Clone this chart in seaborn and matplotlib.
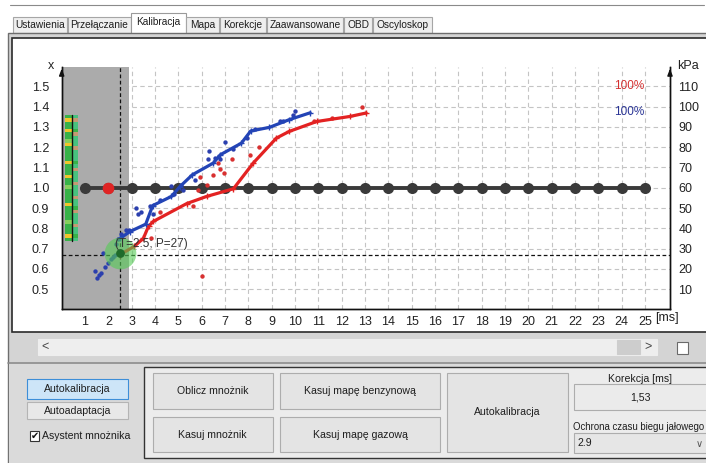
import pandas as pd
import seaborn as sns
import matplotlib.pyplot as plt
from matplotlib.patches import Rectangle
from matplotlib.colors import ListedColormap

# ---- values ----
tab_names = ["Ustawienia", "Przełączanie", "Kalibracja", "Mapa", "Korekcje",
             "Zaawansowane", "OBD", "Oscyloskop"]

ms_ticks = [1, 2, 3, 4, 5, 6, 7, 8, 9, 10, 11, 12, 13, 14, 15, 16, 17, 18, 19,
            20, 21, 22, 23, 24, 25]
x_ticks = [0.5, 0.6, 0.7, 0.8, 0.9, 1.0, 1.1, 1.2, 1.3, 1.4, 1.5]
kpa_ticks = [10, 20, 30, 40, 50, 60, 70, 80, 90, 100, 110]

# multiplier map (black points, the one at 2 ms is highlighted red)
map_ms = [1, 2, 3, 4, 5, 6, 7, 8, 9, 10, 11, 12, 13, 14, 15, 16, 17, 18, 19,
          20, 21, 22, 23, 24, 25]
map_x = [1.0, 1.0, 1.0, 1.0, 1.0, 1.0, 1.0, 1.0, 1.0, 1.0, 1.0, 1.0, 1.0,
         1.0, 1.0, 1.0, 1.0, 1.0, 1.0, 1.0, 1.0, 1.0, 1.0, 1.0, 1.0]
active_ms = 2

# blue curve (petrol) and red curve (gas)
blue_ms = [2.5, 2.93, 3.6, 3.9, 4.7, 5.07, 5.6, 6.5, 6.8, 7.7, 8.1, 8.9, 9.75, 10.65]
blue_x = [0.75, 0.784, 0.82, 0.912, 0.957, 1.006, 1.064, 1.122, 1.163, 1.22,
          1.28, 1.298, 1.336, 1.37]
red_ms = [2.5, 3.1, 3.5, 3.72, 3.93, 5.36, 6.21, 7.36, 8.21, 9.2, 9.75, 10.93,
          12.36, 13.05]
red_x = [0.67, 0.71, 0.75, 0.81, 0.834, 0.922, 0.957, 0.995, 1.122, 1.245,
         1.278, 1.327, 1.352, 1.369]

blue_pts_ms = [1.43, 1.53, 1.6, 1.7, 1.77, 1.84, 1.99, 2.13, 2.2, 2.27, 2.34,
               2.41, 2.56, 2.77, 2.9, 3.2, 3.27, 3.41, 3.77, 3.9, 4.2, 4.69,
               4.8, 5.13, 5.2, 5.7, 6.29, 6.33, 6.57, 6.79, 7.0, 7.36, 7.93,
               8.3, 9.36, 9.5, 9.93, 10.0]
blue_pts_x = [0.587, 0.555, 0.57, 0.58, 0.68, 0.61, 0.63, 0.65, 0.66, 0.67,
              0.72, 0.745, 0.77, 0.79, 0.79, 0.9, 0.87, 0.88, 0.91, 0.87,
              0.94, 1.01, 0.97, 1.015, 0.99, 1.04, 1.14, 1.18, 1.146, 1.14,
              1.224, 1.19, 1.245, 1.29, 1.327, 1.33, 1.36, 1.38]
red_pts_ms = [3.83, 4.2, 5.61, 5.86, 5.93, 6.21, 6.5, 6.71, 6.79, 6.96, 7.29,
              8.07, 8.47, 6.0, 10.8, 11.6, 12.86]
red_pts_x = [0.75, 0.88, 0.908, 0.99, 1.053, 1.015, 1.064, 1.122, 1.092,
             1.072, 1.142, 1.163, 1.2, 0.562, 1.33, 1.345, 1.40]

# current operating point
cur_ms = 2.5
cur_kpa = 27
cur_x = 0.678
idle_guard_ms = 2.9

# small colour strip on the left (G green, Y yellow, L light green, A aqua, T tan)
strip_left = "GYGGYGGLYGGGGYGGGYGGLGGGGYGGGGLGGGYG"
strip_right = "ATAAGTAAATAAAGATAAATAAATAAGTAAATAAGA"
strip_colors = {"G": "#38b248", "Y": "#f1c62a", "L": "#86cf5c",
                "A": "#47c27e", "T": "#c49a72"}

# ---- drawing ----
W, H = 706, 463
sns.set_style("white")
plt.rcParams["font.family"] = ["Liberation Sans", "DejaVu Sans"]

fig = plt.figure(figsize=(W / 100, H / 100), dpi=100)

bg = fig.add_axes([0, 0, 1, 1], zorder=0)
bg.set_xlim(0, W)
bg.set_ylim(H, 0)
bg.axis("off")


def box(x0, y0, x1, y1, fc, ec="#adadad", lw=0.8):
    bg.add_patch(Rectangle((x0, y0), x1 - x0, y1 - y0, facecolor=fc,
                           edgecolor=ec, linewidth=lw))


def label(x, y, s, ha="center", size=7.6, color="#1e1e1e", **kw):
    bg.text(x, y, s, ha=ha, va="center", fontsize=size, color=color, **kw)


# tab strip
bg.plot([10, 704], [5, 5], color="#8a8a8a", lw=0.8)
tab_edges = [12, 67, 131, 185, 219, 266, 343, 372, 432]
for i, name in enumerate(tab_names):
    x0, x1 = tab_edges[i] + 1, tab_edges[i + 1]
    if name == "Kalibracja":
        box(x0 - 1, 13, x1 + 1, 34, "white", "#9a9a9a")
        label((x0 + x1) / 2, 22, name, size=7.3)
    else:
        box(x0, 17, x1, 33, "#efefef", "#a6a6a6")
        label((x0 + x1) / 2, 25, name, size=7.3)

# panel and chart frame
box(8, 33, 710, 470, "#d4d4d4", "#6e6e6e", 1.0)
box(11.5, 38, 710, 332, "white", "#2a2a2a", 1.2)

# scrollbar
box(38, 339, 657, 355, "#eeeeee", "#eeeeee")
box(617, 340, 640, 354, "#cdcdcd", "#cdcdcd")
label(45, 347, "<", size=9, color="#444444")
label(648, 347, ">", size=9, color="#444444")
box(677, 342, 688, 354, "white", "#6a6a6a")

# lower panel
bg.plot([8, 706], [362.5, 362.5], color="#8c8c8c", lw=1.2)
box(9, 363.5, 710, 470, "#dadada", "#dadada")
box(27, 379, 128, 399, "#cde5f8", "#3d8ed8")
label(77.5, 389, "Autokalibracja")
box(27, 402, 128, 419, "#e8e8e8", "#b4b4b4")
label(77.5, 410.5, "Autoadaptacja")
box(30, 431, 39, 441, "white", "#333333")
bg.text(34.5, 436, "\u2714", ha="center", va="center", fontsize=7,
        family=["DejaVu Sans"], color="#111111")
label(42, 436, "Asystent mnożnika", ha="left")

box(144, 366.5, 710, 458, "#ececec", "#333333", 1.0)
box(152.5, 372.5, 273, 409, "#e4e4e4")
label(212.8, 391, "Oblicz mnożnik")
box(152.5, 417, 273, 452, "#e4e4e4")
label(212.8, 434.5, "Kasuj mnożnik")
box(280, 372.5, 440, 409, "#e4e4e4")
label(360, 391, "Kasuj mapę benzynową")
box(280, 417, 440, 452, "#e4e4e4")
label(360, 434.5, "Kasuj mapę gazową")
box(447, 372.5, 568, 452, "#e4e4e4")
label(507.5, 412, "Autokalibracja")
label(640, 378.5, "Korekcja [ms]")
box(574, 384, 712, 410, "#ebebeb")
label(640, 397, "1,53")
label(573, 426.5, "Ochrona czasu biegu jałowego", ha="left", size=6.9)
box(574, 433, 712, 453, "#e6e6e6")
label(578, 443, f"{idle_guard_ms}", ha="left")
label(699, 444, "\u2228", size=7, color="#555555", family=["DejaVu Sans"])

# ---- chart ----
left, right, top, bottom = 61.7, 670.0, 67.0, 309.3
ax = fig.add_axes([left / W, (H - bottom) / H, (right - left) / W,
                   (bottom - top) / H], zorder=2)
ax.set_xlim(0, 26.07)
ax.set_ylim(0.4, 1.596)
ax.set_facecolor("none")

grid_kw = dict(color="#c4c4c4", lw=0.8, dashes=(4, 3), zorder=1)
for t in ms_ticks:
    ax.axvline(t, **grid_kw)
for t in x_ticks:
    ax.axhline(t, **grid_kw)

ax.axvspan(0, idle_guard_ms, color="#ababab", zorder=2, lw=0)

# colour strip
n = len(strip_left)
cell = (1.36 - 0.735) / n
for col, (x0, x1) in zip([strip_left, strip_right], [(0.15, 0.42), (0.43, 0.68)]):
    codes = [list(strip_colors).index(c) for c in col]
    ys = [1.36 - i * cell for i in range(n + 1)]
    ax.pcolormesh([x0, x1], ys, [[c] for c in codes],
                  cmap=ListedColormap(list(strip_colors.values())),
                  vmin=-0.5, vmax=len(strip_colors) - 0.5, zorder=3)
ax.plot([0.425, 0.425], [0.735, 1.36], color="#111111", lw=1, zorder=3)

ax.axvline(cur_ms, color="#111111", lw=0.9, dashes=(3, 2), zorder=4)
ax.axhline(cur_kpa / 100 + 0.4, color="#111111", lw=0.9, dashes=(3, 2), zorder=4)

map_df = pd.DataFrame({"ms": map_ms, "x": map_x})
sns.lineplot(data=map_df, x="ms", y="x", color="#3a3a3a", lw=2.8,
             marker="o", markersize=8, markeredgewidth=0, ax=ax, zorder=5)
active = map_df[map_df["ms"] == active_ms]
sns.scatterplot(data=active, x="ms", y="x", color="#e02424", s=70,
                linewidth=0, ax=ax, zorder=6)

sns.scatterplot(x=blue_pts_ms, y=blue_pts_x, color="#2b3fae", s=10,
                linewidth=0, ax=ax, zorder=6)
sns.scatterplot(x=red_pts_ms, y=red_pts_x, color="#d83030", s=10,
                linewidth=0, ax=ax, zorder=6)
sns.lineplot(x=red_ms, y=red_x, sort=False, estimator=None, color="#e32222",
             lw=2.3, marker="+", markersize=4, mew=1, mec="#e32222",
             ax=ax, zorder=7)
sns.lineplot(x=blue_ms, y=blue_x, sort=False, estimator=None, color="#2344b6",
             lw=2.3, marker="+", markersize=4, mew=1, mec="#2344b6",
             ax=ax, zorder=8)

sns.scatterplot(x=[cur_ms], y=[cur_x], color="#55cc55", alpha=0.6, s=520,
                linewidth=0, ax=ax, zorder=9)
sns.scatterplot(x=[cur_ms], y=[cur_x], color="#1e6b2a", s=40,
                linewidth=0, ax=ax, zorder=10)
ax.text(cur_ms - 0.2, 0.72, f"(T={cur_ms}; P={cur_kpa})", fontsize=8.5,
        color="#333333", va="center", ha="left", zorder=10)

ax.text(24.3, 1.5, "100%", color="#d43030", fontsize=8.5, ha="center", va="center")
ax.text(24.3, 1.376, "100%", color="#2b3596", fontsize=8.5, ha="center", va="center")

ax.set_xticks(ms_ticks)
ax.set_yticks(x_ticks)
ax.set_yticklabels([f"{v:.1f}" for v in x_ticks])
ax.tick_params(length=0, labelsize=9, colors="#222222", pad=9)
ax.tick_params(axis="x", pad=5)
ax.set_xlabel("")
ax.set_ylabel("")

ax2 = ax.twinx()
ax2.set_ylim(0, 119.6)
ax2.set_yticks(kpa_ticks)
ax2.tick_params(length=0, labelsize=9, colors="#222222", pad=6)

for a in (ax, ax2):
    a.spines["top"].set_visible(False)
    for side in ("left", "right", "bottom"):
        a.spines[side].set_color("#111111")
        a.spines[side].set_linewidth(1.0)

for xf in (0, 1):
    ax.annotate("", xy=(xf, 1.005), xytext=(xf, 0.96), xycoords="axes fraction",
                arrowprops=dict(arrowstyle="-|>,head_width=0.15,head_length=0.4",
                                color="#111111", lw=1))
ax.text(-0.018, 1.005, "x", transform=ax.transAxes, fontsize=9, ha="center",
        va="center", color="#222222")
ax.text(1.03, 1.005, "kPa", transform=ax.transAxes, fontsize=9, ha="center",
        va="center", color="#222222")
ax.text(25.45, -0.036, "[ms]", transform=ax.get_xaxis_transform(), fontsize=9,
        ha="left", va="center", color="#222222")

fig.savefig("out.png", dpi=100)
